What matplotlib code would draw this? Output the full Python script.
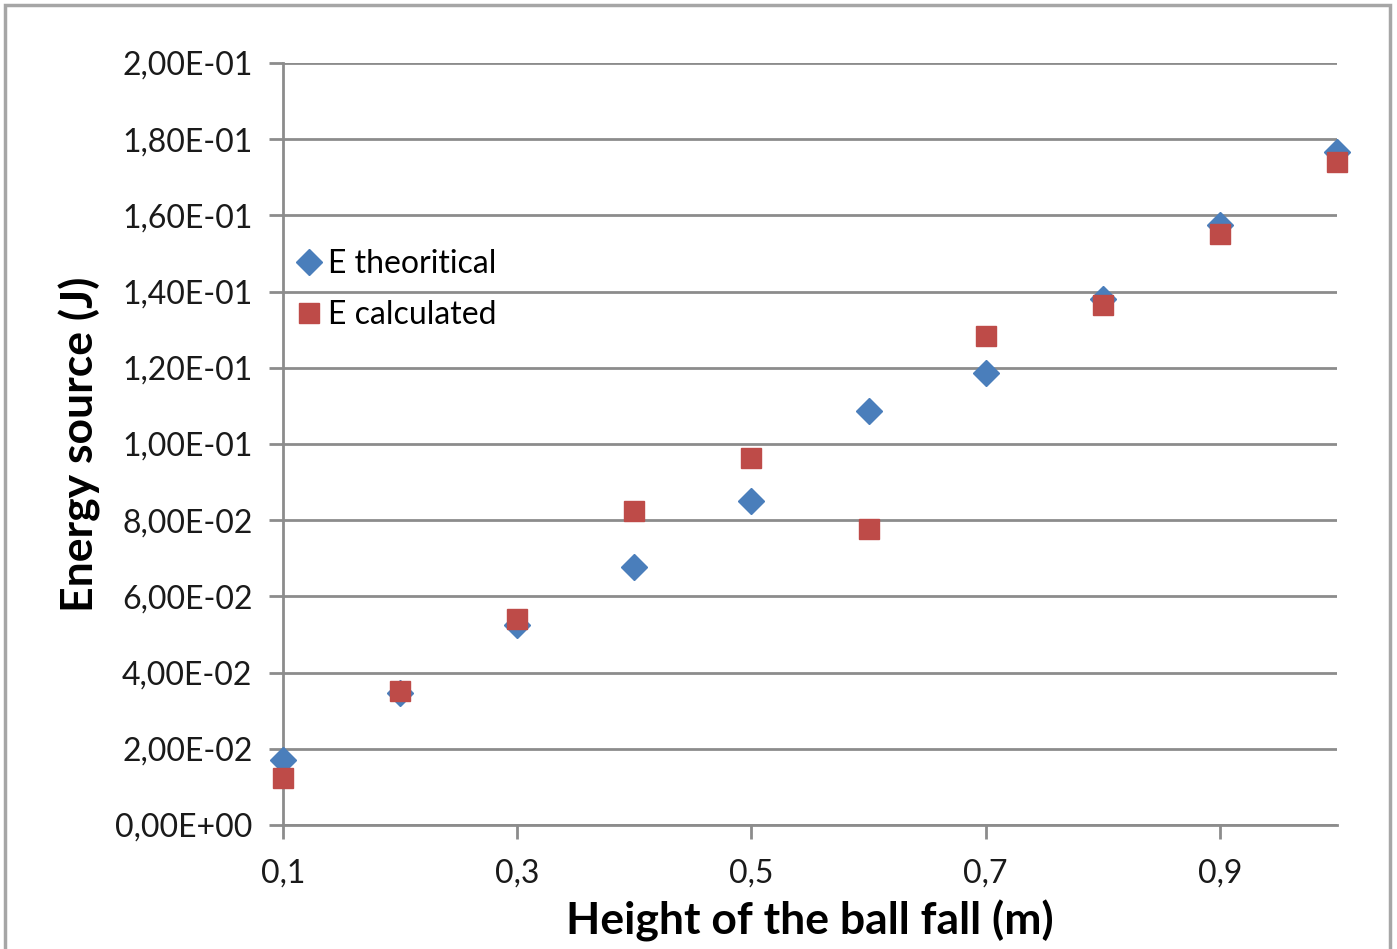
import matplotlib.pyplot as plt
from matplotlib.patches import Rectangle
from matplotlib.ticker import FuncFormatter

# fall height (m)
heights = [0.1, 0.2, 0.3, 0.4, 0.5, 0.6, 0.7, 0.8, 0.9, 1.0]
# energy values (J)
e_theoretical = [0.0171, 0.0346, 0.0525, 0.0677, 0.0850, 0.1087, 0.1186, 0.1381, 0.1575, 0.1766]
e_calculated = [0.0123, 0.0352, 0.0541, 0.0824, 0.0963, 0.0777, 0.1283, 0.1365, 0.1551, 0.1740]

x_ticks = [0.1, 0.3, 0.5, 0.7, 0.9]

plt.rcParams['font.family'] = ['Lato', 'DejaVu Sans']

fig = plt.figure(figsize=(13.97, 9.49), dpi=100)
ax = fig.add_axes([283 / 1397, 1 - 825 / 949, (1337 - 283) / 1397, (825 - 63) / 949])

# grey frame around the whole chart area (bottom runs off the image)
fig.patches.append(Rectangle((5 / 1397, -0.05), 1385 / 1397, 1.05 - 5 / 949,
                             transform=fig.transFigure, fill=False,
                             edgecolor='#a6a6a6', linewidth=2.5))

ax.plot(heights, e_theoretical, linestyle='none', marker='D', markersize=13,
        color='#4a7ebb', label='E theoritical', clip_on=False, zorder=3)
ax.plot(heights, e_calculated, linestyle='none', marker='s', markersize=14,
        color='#be4b48', label='E calculated', clip_on=False, zorder=4)

ax.set_xlim(0.1, 1.0)
ax.set_ylim(0, 0.2)
ax.set_xticks(x_ticks)
ax.set_yticks([i * 0.02 for i in range(11)])
ax.xaxis.set_major_formatter(FuncFormatter(lambda v, p: f"{v:.1f}".replace('.', ',')))
ax.yaxis.set_major_formatter(FuncFormatter(lambda v, p: f"{v:.2E}".replace('.', ',')))

ax.grid(True, axis='y', color='#8c8c8c', linewidth=2)
ax.set_axisbelow(True)
for side in ['top', 'right']:
    ax.spines[side].set_visible(False)
for side in ['left', 'bottom']:
    ax.spines[side].set_color('#8c8c8c')
    ax.spines[side].set_linewidth(2)
ax.tick_params(axis='both', colors='#8c8c8c', width=2, length=10, labelsize=23,
               labelcolor='#1a1a1a')
ax.tick_params(axis='y', pad=12)
ax.tick_params(axis='x', pad=14)

ax.set_xlabel('Height of the ball fall (m)', fontsize=32, fontweight='bold', labelpad=8)
ax.set_ylabel('Energy source (J)', fontsize=32, fontweight='bold', labelpad=10)

ax.legend(loc='upper left', bbox_to_anchor=(-0.012, 0.781), frameon=False, fontsize=23,
          handletextpad=0.0, labelspacing=0.65, borderaxespad=0.2, handlelength=1.2)

fig.savefig('out.png', dpi=100)
